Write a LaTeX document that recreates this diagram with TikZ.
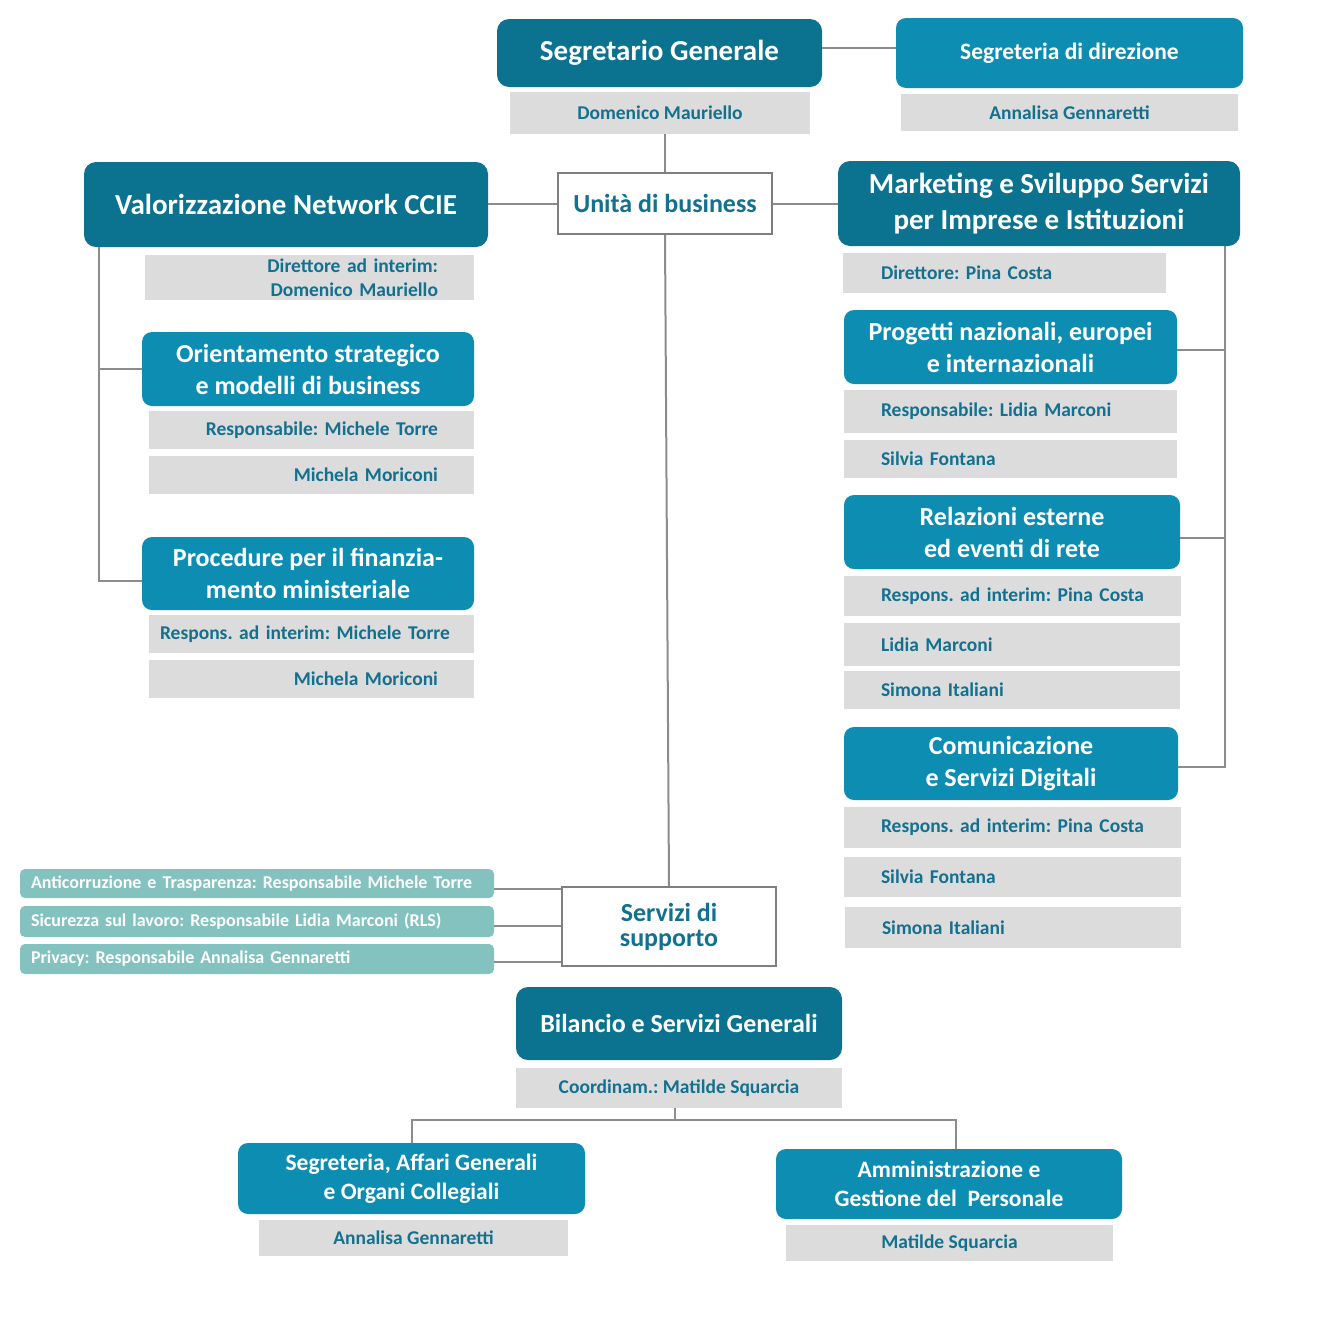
\documentclass[tikz,border=0pt]{standalone}
\usepackage{fontspec}
\setmainfont{Carlito}
\usepackage{tikz}
\usetikzlibrary{positioning}

\definecolor{darkteal}{HTML}{0B7390}
\definecolor{lightteal}{HTML}{0E8DB3}
\definecolor{namegrey}{HTML}{DCDCDC}
\definecolor{nametext}{HTML}{13708F}
\definecolor{dutyteal}{HTML}{84C2C0}
\definecolor{linegrey}{HTML}{8C8C8C}
\definecolor{boxgrey}{HTML}{7F7F7F}

\begin{document}
\frenchspacing
\begin{tikzpicture}[x=1pt,y=-1pt,
headnode/.style={rectangle, rounded corners=12pt, fill=darkteal, text=white, align=center, inner sep=0pt, font=\bfseries\fontsize{29}{36}\selectfont},
unitnode/.style={headnode, rounded corners=10pt, fill=lightteal, font=\bfseries\fontsize{26}{32}\selectfont},
namenode/.style={rectangle, fill=namegrey, text=nametext, align=center, inner sep=0pt, font=\bfseries\fontsize{19.5}{24}\selectfont},
rightname/.style={namenode, align=right, inner xsep=36pt},
leftname/.style={namenode, align=left, inner xsep=37pt},
businode/.style={rectangle, draw=boxgrey, line width=2pt, fill=white, text=nametext, align=center, inner sep=0pt, font=\bfseries\fontsize{26}{25}\selectfont},
dutynode/.style={rectangle, rounded corners=5pt, fill=dutyteal, text=white, align=left, inner xsep=11pt, inner ysep=0pt, text width=452pt, font=\bfseries\fontsize{18}{22}\selectfont},
link/.style={draw=linegrey, line width=2pt},
]
\fill[white] (0,0) rectangle (1323,1323);

%Top
\node[headnode, minimum width=325pt, minimum height=68pt](sg) at (659.5,53){Segretario Generale};
\node[namenode, minimum width=300pt, minimum height=42pt](sgname) at (660,113){Domenico Mauriello};
\node[unitnode, font=\bfseries\fontsize{23.5}{29}\selectfont, minimum width=347pt, minimum height=70pt](sd) at (1069.5,53){Segreteria di direzione};
\node[namenode, minimum width=337pt, minimum height=37pt](sdname) at (1069.5,112.5){Annalisa Gennaretti};
\node[businode, minimum width=214pt, minimum height=61pt](ub) at (665,203.5){Unità di business};

%Left branch
\node[headnode, minimum width=404pt, minimum height=85pt](vnc) at (286,204.5){Valorizzazione Network CCIE};
\node[rightname, text width=257pt, minimum height=45pt](vncname) at (309.5,277.5){Direttore ad interim:\\Domenico Mauriello};
\node[unitnode, minimum width=332pt, minimum height=74pt](osm) at (308,369){Orientamento strategico\\e modelli di business};
\node[rightname, text width=253pt, minimum height=38pt](osmresp) at (311.5,430){Responsabile: Michele Torre};
\node[rightname, text width=253pt, minimum height=38pt](osmstaff) at (311.5,475){Michela Moriconi};
\node[unitnode, minimum width=332pt, minimum height=73pt](pfm) at (308,573.5){Procedure per il finanzia-\\mento ministeriale};
\node[namenode, align=left, inner xsep=11pt, text width=303pt, minimum height=38pt](pfmresp) at (311.5,634){Respons. ad interim: Michele Torre};
\node[rightname, text width=253pt, minimum height=38pt](pfmstaff) at (311.5,679){Michela Moriconi};

%Right branch
\node[headnode, minimum width=402pt, minimum height=85pt](msp) at (1039,203.5){Marketing e Sviluppo Servizi\\per Imprese e Istituzioni};
\node[leftname, inner xsep=38pt, text width=247pt, minimum height=40pt](mspname) at (1004.5,273){Direttore: Pina Costa};
\node[unitnode, minimum width=333pt, minimum height=74pt](pni) at (1010.5,347){Progetti nazionali, europei\\e internazionali};
\node[leftname, text width=259pt, minimum height=43pt](pniresp) at (1010.5,411.5){Responsabile: Lidia Marconi};
\node[leftname, text width=259pt, minimum height=38pt](pnistaff) at (1010.5,459){Silvia Fontana};
\node[unitnode, minimum width=336pt, minimum height=74pt](rer) at (1012,532){Relazioni esterne\\ed eventi di rete};
\node[leftname, text width=263pt, minimum height=40pt](rerresp) at (1012.5,596){Respons. ad interim: Pina Costa};
\node[leftname, text width=262pt, minimum height=43pt](rerstaffa) at (1012,644.5){Lidia Marconi};
\node[leftname, text width=262pt, minimum height=38pt](rerstaffb) at (1012,690){Simona Italiani};
\node[unitnode, minimum width=334pt, minimum height=73pt](csd) at (1011,763.5){Comunicazione\\e Servizi Digitali};
\node[leftname, text width=263pt, minimum height=41pt](csdresp) at (1012.5,827.5){Respons. ad interim: Pina Costa};
\node[leftname, text width=263pt, minimum height=40pt](csdstaffa) at (1012.5,877){Silvia Fontana};
\node[leftname, text width=262pt, minimum height=41pt](csdstaffb) at (1013,927.5){Simona Italiani};

%Support services
\node[businode, minimum width=214pt, minimum height=79pt](ss) at (669,926.5){Servizi di\\supporto};
\node[dutynode, minimum height=29pt](acr) at (257,883.5){Anticorruzione e Trasparenza: Responsabile Michele Torre};
\node[dutynode, minimum height=31pt](sic) at (257,921.5){Sicurezza sul lavoro: Responsabile Lidia Marconi (RLS)};
\node[dutynode, minimum height=30pt](prv) at (257,959){Privacy: Responsabile Annalisa Gennaretti};

%Bottom
\node[headnode, font=\bfseries\fontsize{26}{32}\selectfont, minimum width=326pt, minimum height=73pt](bsg) at (679,1023.5){Bilancio e Servizi Generali};
\node[namenode, minimum width=326pt, minimum height=40pt](bsgname) at (679,1088){Coordinam.: Matilde Squarcia};
\node[unitnode, font=\bfseries\fontsize{23.5}{29}\selectfont, minimum width=347pt, minimum height=71pt](sag) at (411.5,1178.5){Segreteria, Affari Generali\\e Organi Collegiali};
\node[namenode, minimum width=309pt, minimum height=36pt](sagname) at (413.5,1238){Annalisa Gennaretti};
\node[unitnode, font=\bfseries\fontsize{23.5}{29}\selectfont, minimum width=346pt, minimum height=70pt](agp) at (949,1184){Amministrazione e\\Gestione del\ \ Personale};
\node[namenode, minimum width=327pt, minimum height=36pt](agpname) at (949.5,1243){Matilde Squarcia};
\coordinate (split) at (675,1120);

%Connectors
\draw[link]([yshift=5pt]sg.east) -- ([yshift=5pt]sd.west);
\draw[link](ub.north |- sgname.south) -- (ub.north);
\draw[link](ub.west) -- (ub.west -| vnc.east);
\draw[link](ub.east) -- (ub.east -| msp.west);
\draw[link](ub.south) -- (ss.north);
\draw[link]([xshift=15pt]vnc.south west) |- (osm.west);
\draw[link]([xshift=15pt]vnc.south west) |- ([yshift=-7pt]pfm.west);
\draw[link]([xshift=-15pt]msp.south east) |- ([yshift=-3pt]pni.east);
\draw[link]([xshift=-15pt]msp.south east) |- ([yshift=-6pt]rer.east);
\draw[link]([xshift=-15pt]msp.south east) |- ([yshift=-3pt]csd.east);
\draw[link]([yshift=-5pt]acr.east) -- ([yshift=-5pt]acr.east -| ss.west);
\draw[link]([yshift=-4.5pt]sic.east) -- ([yshift=-4.5pt]sic.east -| ss.west);
\draw[link]([yshift=-3pt]prv.east) -- ([yshift=-3pt]prv.east -| ss.west);
\draw[link](bsgname.south -| split) -- (split);
\draw[link](sag.north) |- (split) -| ([xshift=7pt]agp.north);
\end{tikzpicture}
\end{document}
